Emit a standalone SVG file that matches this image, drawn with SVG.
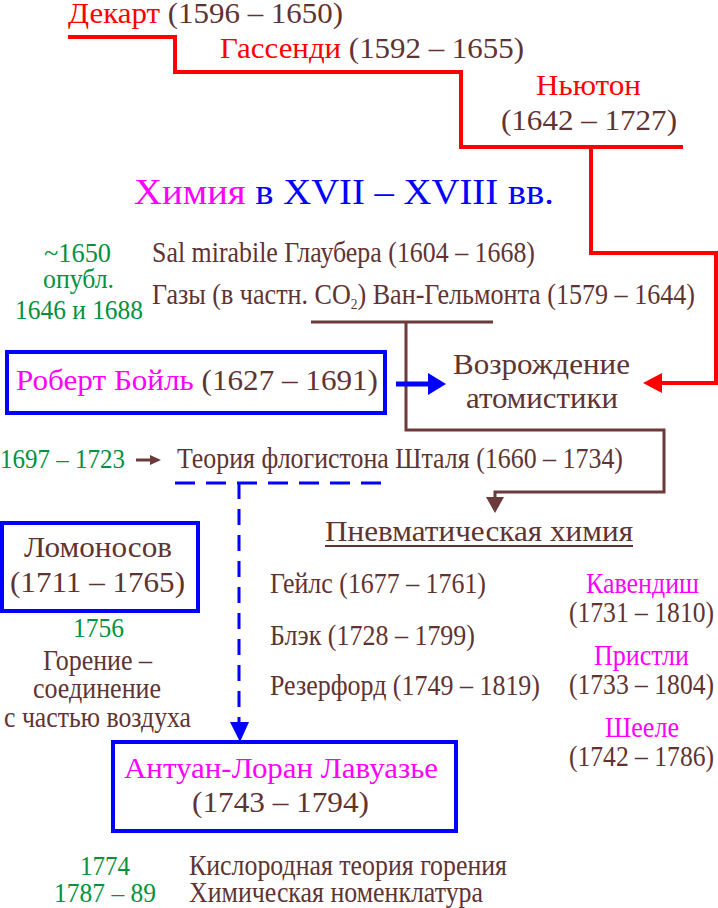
<svg xmlns="http://www.w3.org/2000/svg" width="718" height="908" viewBox="0 0 718 908">
<style>
text{font-family:"Liberation Serif","Times New Roman",serif;font-size:29px;fill:#603333}
.r{fill:#FF0000}.m{fill:#FF00FF}.g{fill:#00923F;font-size:27px}
.b{fill:#0000FF}
.t{font-size:36px}
.box{fill:none;stroke:#0000FF;stroke-width:4}
.red{fill:none;stroke:#FF0000;stroke-width:4}
.brn{fill:none;stroke:#6B3B3B;stroke-width:3}
.dash{fill:none;stroke:#0000FF;stroke-width:3}
</style>
<rect width="718" height="908" fill="#FFFFFF"/>
<g id="connectors">
<path class="red" d="M68,37 H175 V72 H461 V147 H683 M591,147 V253 H716 V383 H660"/>
<polygon fill="#FF0000" points="643,383 662,373 662,393"/>
<path class="brn" d="M311,322 H493 M406,322 V430 H664 V492 H495 V500"/>
<polygon fill="#6B3B3B" points="486,497 504,497 495,513"/>
<path d="M396,384 H430" stroke="#0000FF" stroke-width="5" fill="none"/>
<polygon fill="#0000FF" points="428,373 446,384 428,395"/>
<path class="dash" d="M175,483 H391" stroke-dasharray="20,11"/>
<path class="dash" d="M239,483 V724" stroke-dasharray="16,10"/>
<polygon fill="#0000FF" points="230,722 249,722 240,742"/>
<path d="M136,460 H152" stroke="#6B3B3B" stroke-width="3" fill="none"/>
<polygon fill="#6B3B3B" points="150,455 161,460 150,465"/>
<path d="M325,546 H633" stroke="#603333" stroke-width="2" fill="none"/>
</g>
<g id="descartes"><text x="68" y="23" textLength="275" lengthAdjust="spacingAndGlyphs"><tspan class="r">Декарт</tspan> (1596 – 1650)</text></g>
<g id="gassendi"><text x="220" y="58" textLength="304" lengthAdjust="spacingAndGlyphs"><tspan class="r">Гассенди</tspan> (1592 – 1655)</text></g>
<g id="newton">
<text class="r" x="536" y="95" textLength="105" lengthAdjust="spacingAndGlyphs">Ньютон</text>
<text x="501" y="130" textLength="176" lengthAdjust="spacingAndGlyphs">(1642 – 1727)</text>
</g>
<g id="title"><text class="t" x="134" y="204" textLength="420" lengthAdjust="spacingAndGlyphs"><tspan class="m">Химия</tspan><tspan class="b"> в XVII – XVIII вв.</tspan></text></g>
<g id="dates1650">
<text class="g" x="44" y="262" textLength="67" lengthAdjust="spacingAndGlyphs">~1650</text>
<text class="g" x="43" y="288" textLength="71" lengthAdjust="spacingAndGlyphs">опубл.</text>
<text class="g" x="15" y="319" textLength="128" lengthAdjust="spacingAndGlyphs">1646 и 1688</text>
</g>
<g id="glauber"><text x="152" y="262" textLength="383" lengthAdjust="spacingAndGlyphs">Sal mirabile Глаубера (1604 – 1668)</text></g>
<g id="helmont"><text x="152" y="304" textLength="543" lengthAdjust="spacingAndGlyphs">Газы (в частн. CO<tspan font-size="15" dy="5">2</tspan><tspan dy="-5">) Ван-Гельмонта (1579 – 1644)</tspan></text></g>
<g id="boyle">
<rect class="box" x="7" y="352" width="378" height="61"/>
<text x="16" y="390" textLength="362" lengthAdjust="spacingAndGlyphs"><tspan class="m">Роберт Бойль</tspan> (1627 – 1691)</text>
</g>
<g id="atomism">
<text x="453" y="374" textLength="177" lengthAdjust="spacingAndGlyphs">Возрождение</text>
<text x="466" y="408" textLength="152" lengthAdjust="spacingAndGlyphs">атомистики</text>
</g>
<g id="stahl">
<text class="g" x="0" y="468" textLength="125" lengthAdjust="spacingAndGlyphs">1697 – 1723</text>
<text x="177" y="468" textLength="446" lengthAdjust="spacingAndGlyphs">Теория флогистона Шталя (1660 – 1734)</text>
</g>
<g id="lomonosov">
<rect class="box" x="2" y="523" width="196" height="88"/>
<text x="24" y="557" textLength="148" lengthAdjust="spacingAndGlyphs">Ломоносов</text>
<text x="10" y="592" textLength="175" lengthAdjust="spacingAndGlyphs">(1711 – 1765)</text>
<text class="g" x="73" y="637" textLength="51" lengthAdjust="spacingAndGlyphs">1756</text>
<text x="43" y="670" textLength="109" lengthAdjust="spacingAndGlyphs">Горение –</text>
<text x="33" y="698" textLength="128" lengthAdjust="spacingAndGlyphs">соединение</text>
<text x="4" y="727" textLength="187" lengthAdjust="spacingAndGlyphs">с частью воздуха</text>
</g>
<g id="pneumatic">
<text x="325" y="541" textLength="308" lengthAdjust="spacingAndGlyphs">Пневматическая химия</text>
<text x="270" y="593" textLength="216" lengthAdjust="spacingAndGlyphs">Гейлс (1677 – 1761)</text>
<text x="270" y="645" textLength="205" lengthAdjust="spacingAndGlyphs">Блэк (1728 – 1799)</text>
<text x="270" y="695" textLength="270" lengthAdjust="spacingAndGlyphs">Резерфорд (1749 – 1819)</text>
</g>
<g id="others">
<text class="m" x="586" y="593" textLength="113" lengthAdjust="spacingAndGlyphs">Кавендиш</text>
<text x="569" y="622" textLength="145" lengthAdjust="spacingAndGlyphs">(1731 – 1810)</text>
<text class="m" x="594" y="665" textLength="95" lengthAdjust="spacingAndGlyphs">Пристли</text>
<text x="569" y="694" textLength="145" lengthAdjust="spacingAndGlyphs">(1733 – 1804)</text>
<text class="m" x="605" y="737" textLength="74" lengthAdjust="spacingAndGlyphs">Шееле</text>
<text x="569" y="766" textLength="145" lengthAdjust="spacingAndGlyphs">(1742 – 1786)</text>
</g>
<g id="lavoisier">
<rect class="box" x="113" y="742" width="343" height="89"/>
<text class="m" x="124" y="778" textLength="314" lengthAdjust="spacingAndGlyphs">Антуан-Лоран Лавуазье</text>
<text x="192" y="812" textLength="177" lengthAdjust="spacingAndGlyphs">(1743 – 1794)</text>
</g>
<g id="achievements">
<text class="g" x="80" y="875" textLength="50" lengthAdjust="spacingAndGlyphs">1774</text>
<text x="189" y="875" textLength="318" lengthAdjust="spacingAndGlyphs">Кислородная теория горения</text>
<text class="g" x="54" y="902" textLength="102" lengthAdjust="spacingAndGlyphs">1787 – 89</text>
<text x="189" y="902" textLength="294" lengthAdjust="spacingAndGlyphs">Химическая номенклатура</text>
</g>
</svg>
